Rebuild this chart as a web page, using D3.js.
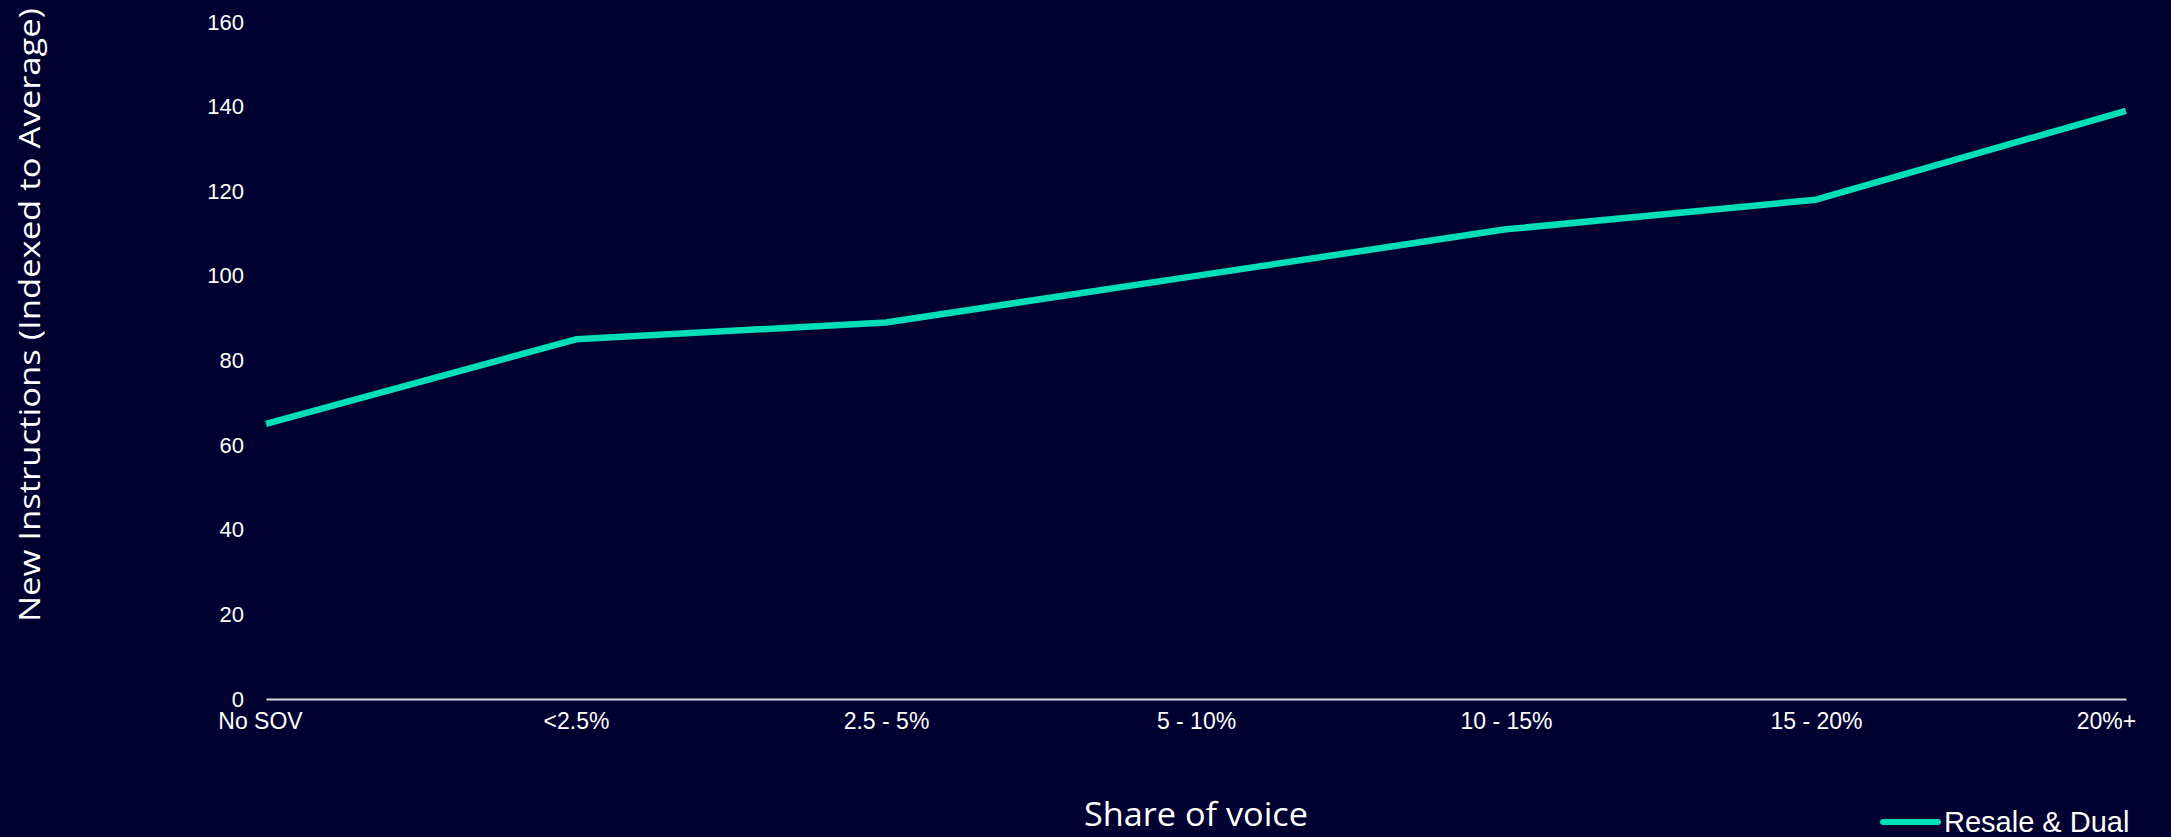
<!DOCTYPE html>
<html>
<head>
<meta charset="utf-8">
<script src="https://cdn.jsdelivr.net/npm/d3@7"></script>
<style>
  html, body { margin: 0; padding: 0; background: #000030; }
  svg { display: block; }
</style>
</head>
<body>
<script>
var svgWidth = 2171;
var svgHeight = 837;

// data
var categories = ["No SOV", "<2.5%", "2.5 - 5%", "5 - 10%", "10 - 15%", "15 - 20%", "20%+"];
var resaleDual = [65, 85, 89, 100, 111, 118, 139];
var yTicks = [0, 20, 40, 60, 80, 100, 120, 140, 160];
var seriesName = "Resale & Dual";

var chartMargin = { top: 22, right: 45, bottom: 138, left: 266 };
var chartWidth = svgWidth - chartMargin.left - chartMargin.right;
var chartHeight = svgHeight - chartMargin.top - chartMargin.bottom;

var lineColor = "#00dfb8";

var svg = d3.select("body").append("svg")
    .attr("width", svgWidth)
    .attr("height", svgHeight)
    .style("background", "#000030");

var chartGroup = svg.append("g")
    .attr("transform", `translate(${chartMargin.left}, ${chartMargin.top})`);

var xScale = d3.scalePoint()
    .domain(categories)
    .range([0, chartWidth])
    .padding(0);

var yScale = d3.scaleLinear()
    .domain([0, 160])
    .range([chartHeight, 0]);

// y axis: labels only
var yAxis = chartGroup.append("g")
    .call(d3.axisLeft(yScale).tickValues(yTicks).tickSize(0).tickPadding(22));
yAxis.select(".domain").remove();
yAxis.selectAll("text")
    .attr("fill", "#ffffff")
    .style("font-family", "Liberation Sans, Arial, sans-serif")
    .style("font-size", "22px");

// x axis
var xAxis = chartGroup.append("g")
    .attr("transform", `translate(0, ${chartHeight})`)
    .call(d3.axisBottom(xScale).tickSize(0).tickPadding(14));
xAxis.select(".domain")
    .attr("stroke", "#d9d9d9")
    .attr("stroke-width", 2);
xAxis.selectAll("text")
    .attr("fill", "#ffffff")
    .style("font-family", "Liberation Sans, Arial, sans-serif")
    .style("font-size", "23px")
    .attr("dx", function(d, i) {
        if (i === 0) return -6;
        if (i === categories.length - 1) return -20;
        return 0;
    });

// line
var line = d3.line()
    .x((d, i) => xScale(categories[i]))
    .y(d => yScale(d));

chartGroup.append("path")
    .datum(resaleDual)
    .attr("fill", "none")
    .attr("stroke", lineColor)
    .attr("stroke-width", 6.5)
    .attr("stroke-linejoin", "round")
    .attr("d", line);

// axis titles
svg.append("text")
    .attr("transform", "translate(40, 315) rotate(-90)")
    .attr("text-anchor", "middle")
    .attr("fill", "#ffffff")
    .style("font-family", "Open Sans, sans-serif")
    .style("font-size", "30px")
    .attr("textLength", 614)
    .attr("lengthAdjust", "spacingAndGlyphs")
    .text("New Instructions (Indexed to Average)");

svg.append("text")
    .attr("x", chartMargin.left + chartWidth / 2)
    .attr("y", 826)
    .attr("text-anchor", "middle")
    .attr("fill", "#ffffff")
    .style("font-family", "Open Sans, sans-serif")
    .style("font-size", "32px")
    .attr("textLength", 224)
    .attr("lengthAdjust", "spacingAndGlyphs")
    .text("Share of voice");

// legend
var legend = svg.append("g")
    .attr("transform", "translate(1883, 822)");
legend.append("line")
    .attr("x1", 0).attr("x2", 55)
    .attr("y1", 0).attr("y2", 0)
    .attr("stroke", lineColor)
    .attr("stroke-width", 6)
    .attr("stroke-linecap", "round");
legend.append("text")
    .attr("x", 61)
    .attr("y", 10)
    .attr("fill", "#ffffff")
    .style("font-family", "Liberation Sans, Arial, sans-serif")
    .style("font-size", "29px")
    .text(seriesName);
</script>
</body>
</html>
